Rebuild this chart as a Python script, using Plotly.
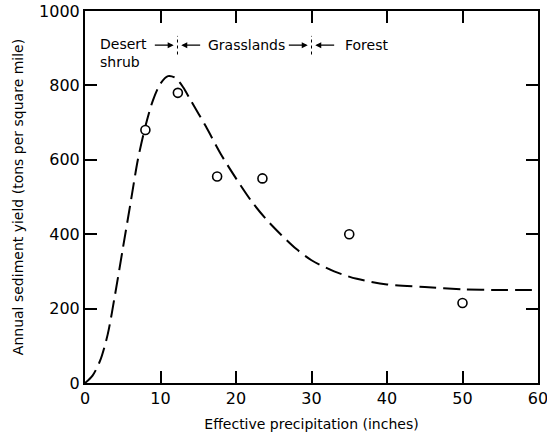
import plotly.graph_objects as go

# Observed data points
obs_x = [8, 12.3, 17.5, 23.5, 35, 50]
obs_y = [680, 780, 555, 550, 400, 215]

# Fitted (dashed) curve
curve_x = [0, 1, 2, 3, 4, 5, 6, 7, 8, 9, 10, 11, 12, 13, 14, 16, 18, 20, 22, 24,
           26, 28, 30, 33, 36, 40, 45, 50, 55, 60]
curve_y = [0, 20, 60, 130, 240, 360, 480, 600, 690, 760, 805, 825, 820, 795, 760,
           690, 615, 550, 490, 440, 398, 360, 330, 300, 280, 265, 258, 252, 250, 250]

# Vegetation zones
zone_labels = ["Desert<br>shrub", "Grasslands", "Forest"]
zone_bounds = [12.25, 30]

x_ticks = [0, 10, 20, 30, 40, 50, 60]
y_ticks = [0, 200, 400, 600, 800, 1000]

FONT = "DejaVu Sans"

fig = go.Figure()
fig.add_trace(go.Scatter(
    x=curve_x, y=curve_y, mode="lines",
    line=dict(color="black", width=2, dash="17px,7px", shape="spline", smoothing=0.8),
    hoverinfo="skip", showlegend=False, cliponaxis=False))
fig.add_trace(go.Scatter(
    x=obs_x, y=obs_y, mode="markers",
    marker=dict(symbol="circle", size=9, color="white",
                line=dict(color="black", width=1.6)),
    showlegend=False))

label_y = 908
# zone labels
fig.add_annotation(x=1.7, y=label_y, xref="x", yref="y", text=zone_labels[0],
                   showarrow=False, xanchor="left", yanchor="top", align="left",
                   font=dict(family=FONT, size=14, color="black"), yshift=11)
fig.add_annotation(x=(zone_bounds[0] + zone_bounds[1]) / 2 + 0.3, y=label_y, text=zone_labels[1],
                   showarrow=False, xanchor="center", yanchor="middle",
                   font=dict(family=FONT, size=14, color="black"))
fig.add_annotation(x=zone_bounds[1] + 7.3, y=label_y, text=zone_labels[2],
                   showarrow=False, xanchor="center", yanchor="middle",
                   font=dict(family=FONT, size=14, color="black"))

# arrows pointing into zone boundaries
for b in zone_bounds:
    for side in (-1, 1):
        fig.add_annotation(x=b + side * 0.5, y=label_y, ax=b + side * 3.2, ay=label_y,
                           xref="x", yref="y", axref="x", ayref="y", text="",
                           showarrow=True, arrowhead=2, arrowsize=1, arrowwidth=1.2,
                           arrowcolor="black")
    fig.add_shape(type="line", x0=b, x1=b, y0=label_y - 25, y1=label_y + 25,
                  xref="x", yref="y", line=dict(color="black", width=1, dash="3px,3px"))

axis_common = dict(
    showline=True, linecolor="black", linewidth=2, mirror="ticks",
    ticks="inside", ticklen=12, tickwidth=1.5, tickcolor="black",
    showgrid=False, zeroline=False, automargin=False, ticklabeloverflow="allow",
    tickfont=dict(family=FONT, size=16, color="black"),
)

fig.update_xaxes(range=[0, 60], tickvals=x_ticks, ticktext=[str(v) for v in x_ticks],
                 title=dict(text="Effective precipitation (inches)", standoff=12,
                            font=dict(family=FONT, size=14, color="black")),
                 **axis_common)
fig.update_yaxes(range=[0, 1000], tickvals=y_ticks, ticktext=[str(v) for v in y_ticks],
                 title=dict(text="Annual sediment yield (tons per square mile)", standoff=12,
                            font=dict(family=FONT, size=14, color="black")),
                 **axis_common)

fig.update_layout(
    width=547, height=434,
    margin=dict(l=85, r=9, t=11, b=51),
    paper_bgcolor="white", plot_bgcolor="white",
    font=dict(family=FONT, color="black"),
)

fig.write_html("out.html")
